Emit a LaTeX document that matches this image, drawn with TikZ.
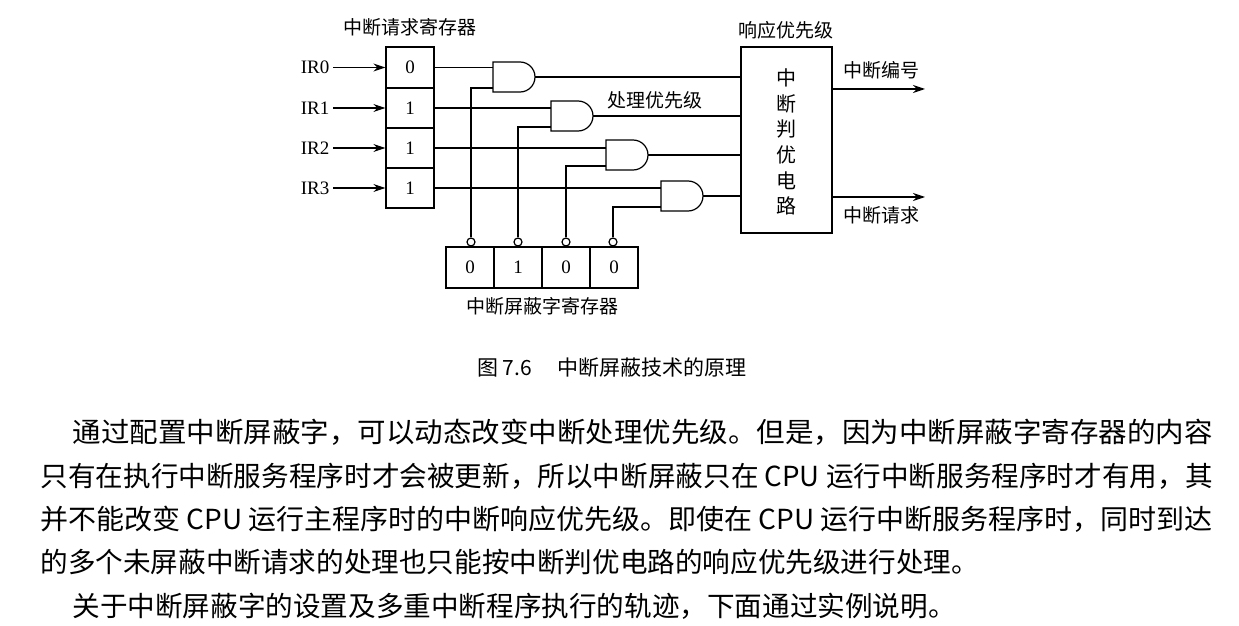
\documentclass[tikz,border=0pt]{standalone}
\usepackage{fontspec}
\usepackage{graphicx}
\setmainfont{Liberation Serif}
\newfontfamily\cjk{Noto Sans CJK SC}
\usetikzlibrary{arrows.meta}
\begin{document}
\begin{tikzpicture}[x=0.5pt,y=-0.5pt,line width=0.6pt,
  lbl/.style={font=\cjk\fontsize{9.5}{11}\selectfont,inner sep=0},
  num/.style={font=\fontsize{9.5}{11}\selectfont,inner sep=0},
  body/.style={font=\cjk\fontsize{13.8}{16}\selectfont,anchor=west,inner sep=0},
  arr/.style={-{Stealth[length=6pt,width=4pt]}},
  bub/.style={circle,draw,minimum size=4pt,inner sep=0,fill=white}]
\useasboundingbox (0,0) rectangle (1239,626);
% request register
\foreach \i/\t/\b/\v in {0/47/88/0,1/88/128/1,2/128/168/1,3/168/208/1}{
  \node[draw,minimum width=24pt,minimum height={(\b-\t)*0.5pt},inner sep=0,num] (r\i) at (410,{(\t+\b)/2}) {\v};
  \node[num,anchor=east] (ir\i) at (330,{(\t+\b)/2}) {IR\i};
  \draw[arr] (ir\i.east)++(3,0) -- (r\i.west);
}
\node[lbl] (rl) at (410,27) {中断请求寄存器};
% mask register
\foreach \i/\l/\v/\w in {0/446/0/471,1/494/1/518,2/542/0/566,3/590/0/613}{
  \node[draw,minimum width=24pt,minimum height=20.5pt,inner sep=0,num] (m\i) at ({\l+24},267.5) {\v};
  \node[bub] (c\i) at (\w,242) {};
}
\node[lbl] (ml) at (542,306) {中断屏蔽字寄存器};
% gates
\foreach \i/\l/\t in {0/493/62,1/551/101,2/606/140,3/661/181}{
  \draw (\l,\t) -- ++(27,0) arc[start angle=-90,end angle=90,radius=15] -- ++(-27,0) -- cycle;
  \coordinate (g\i a) at (\l,{\t+5});
  \coordinate (g\i b) at (\l,{\t+26});
  \coordinate (g\i o) at ({\l+42},{\t+15});
}
% judge box
\node[draw,minimum width=45.5pt,minimum height=93pt,inner sep=0] (J) at (786.5,140) {};
\node[lbl,align=center,font=\cjk\fontsize{10}{12.8}\selectfont] (jt) at (786.5,142) {中\\断\\判\\优\\电\\路};
\node[lbl] (rp) at (786,30) {响应优先级};
\node[lbl] (pp) at (655,100) {处理优先级};
% wiring
\foreach \i in {0,1,2,3}{
  \draw (r\i.east) -- (r\i.east -| g\i a);
  \draw (c\i.north) |- (g\i b);
  \draw (g\i o) -- (g\i o -| J.west);
}
\draw[arr] (J.east |- 0,89) coordinate (o1) -- (925,89) coordinate (e1);
\draw[arr] (J.east |- 0,197) coordinate (o2) -- (925,197) coordinate (e2);
\node[lbl] (on) at (881,70) {中断编号};
\node[lbl] (oq) at (881,215) {中断请求};
% caption and text
\node[font=\cjk\fontsize{10.5}{12}\selectfont,inner sep=0] (cap) at (612,368) {图 7.6\quad\ 中断屏蔽技术的原理};
\node[body] (t1) at (72,432) {\resizebox{570pt}{\height}{通过配置中断屏蔽字，可以动态改变中断处理优先级。但是，因为中断屏蔽字寄存器的内容}};
\node[body] (t2) at (40,476) {\resizebox{586pt}{\height}{只有在执行中断服务程序时才会被更新，所以中断屏蔽只在 CPU 运行中断服务程序时才有用，其}};
\node[body] (t3) at (40,519) {\resizebox{586pt}{\height}{并不能改变 CPU 运行主程序时的中断响应优先级。即使在 CPU 运行中断服务程序时，同时到达}};
\node[body] (t4) at (40,562) {的多个未屏蔽中断请求的处理也只能按中断判优电路的响应优先级进行处理。};
\node[body] (t5) at (72,606) {关于中断屏蔽字的设置及多重中断程序执行的轨迹，下面通过实例说明。};
\end{tikzpicture}
\end{document}
